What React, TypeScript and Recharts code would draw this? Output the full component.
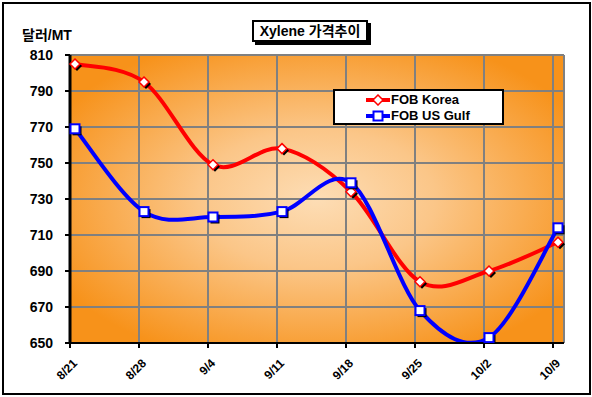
import { LineChart, Line, XAxis, YAxis, CartesianGrid } from "recharts"

const dates = ["8/21", "8/28", "9/4", "9/11", "9/18", "9/25", "10/2", "10/9"]
const fobKorea = [805, 795, 749, 758, 734, 684, 690, 706]
const fobUsGulf = [769, 723, 720, 723, 739, 668, 653, 714]
const yTicks = [650, 670, 690, 710, 730, 750, 770, 790, 810]

const series = [
  { key: "korea", name: "FOB Korea", color: "#FF0000", marker: "diamond" },
  { key: "gulf", name: "FOB US Gulf", color: "#0000FF", marker: "square" },
]

const data = dates.map((date, i) => ({ date, korea: fobKorea[i], gulf: fobUsGulf[i] }))

const W = 592
const H = 397
const margin = { top: 55, right: 28, bottom: 0, left: 0 }
const yAxisWidth = 70
const xAxisHeight = 54
const padL = 5
const padR = 6
const plotLeft = margin.left + yAxisWidth
const plotWidth = W - margin.right - plotLeft
const font = "'Liberation Sans', Arial, sans-serif"
const krFont = "'Liberation Sans', 'Noto Sans CJK KR', sans-serif"

// excel style smoothing (catmull-rom through the points)
const excelSmooth = (context: any) => {
  let pts: number[][] = []
  return {
    areaStart() {},
    areaEnd() {},
    lineStart() {
      pts = []
    },
    point(x: number, y: number) {
      pts.push([+x, +y])
    },
    lineEnd() {
      const n = pts.length
      if (!n) return
      context.moveTo(pts[0][0], pts[0][1])
      for (let i = 0; i < n - 1; i++) {
        const p0 = pts[Math.max(i - 1, 0)]
        const p1 = pts[i]
        const p2 = pts[i + 1]
        const p3 = pts[Math.min(i + 2, n - 1)]
        context.bezierCurveTo(
          p1[0] + (p2[0] - p0[0]) / 6,
          p1[1] + (p2[1] - p0[1]) / 6,
          p2[0] - (p3[0] - p1[0]) / 6,
          p2[1] - (p3[1] - p1[1]) / 6,
          p2[0],
          p2[1]
        )
      }
    },
  }
}

const Marker = ({ cx, cy, kind, color }: any) => {
  if (cx == null || cy == null) return null
  if (kind === "diamond") {
    const r = 5
    const d = (ox: number, oy: number) =>
      `M${cx + ox},${cy + oy - r} L${cx + ox + r},${cy + oy} L${cx + ox},${cy + oy + r} L${cx + ox - r},${cy + oy} Z`
    return (
      <g>
        <path d={d(2, 2)} fill="#000" />
        <path d={d(0, 0)} fill="#fff" stroke={color} strokeWidth={1.5} />
      </g>
    )
  }
  const s = 9
  return (
    <g>
      <rect x={cx - s / 2 + 2} y={cy - s / 2 + 2} width={s} height={s} fill="#000" />
      <rect x={cx - s / 2} y={cy - s / 2} width={s} height={s} fill="#fff" stroke={color} strokeWidth={2} />
    </g>
  )
}

const DateTick = ({ x, y, payload }: any) => (
  <g>
    <line x1={x - 5} x2={x - 5} y1={y} y2={y + 5} stroke="#000" strokeWidth={2} />
    <text
      x={x + 3}
      y={y + 21}
      transform={`rotate(-45 ${x + 3} ${y + 21})`}
      textAnchor="end"
      fontFamily={font}
      fontWeight="bold"
      fontSize={12}
      fill="#000"
    >
      {payload.value}
    </text>
  </g>
)

export default function App() {
  const gridX = dates
    .map((_, i) => plotLeft + padL + (i * (plotWidth - padL - padR)) / (dates.length - 1) - 5)
    .concat([plotLeft + plotWidth])

  return (
    <div style={{ position: "absolute", left: 0, top: 0, width: W, height: H, background: "#fff" }}>
      <div
        style={{
          position: "absolute",
          left: 2,
          top: 2,
          width: 589,
          height: 393,
          border: "2px solid #000",
          boxSizing: "border-box",
        }}
      />
      <LineChart width={W} height={H} data={data} margin={margin} style={{ position: "absolute", left: 0, top: 0 }}>
        <defs>
          <radialGradient id="plotBg" cx="0.5" cy="0.5" r="0.6">
            <stop offset="0" stopColor="#FDDDB5" />
            <stop offset="0.4" stopColor="#FBC688" />
            <stop offset="1" stopColor="#F7921A" />
          </radialGradient>
        </defs>
        <CartesianGrid
          fill="url(#plotBg)"
          fillOpacity={1}
          stroke="#808080"
          strokeWidth={2}
          verticalCoordinatesGenerator={() => gridX}
        />
        <XAxis
          dataKey="date"
          height={xAxisHeight}
          padding={{ left: padL, right: padR }}
          axisLine={{ stroke: "#000", strokeWidth: 2 }}
          tickLine={false}
          tickSize={0}
          tickMargin={0}
          interval={0}
          tick={<DateTick />}
        />
        <YAxis
          width={yAxisWidth}
          domain={[650, 810]}
          ticks={yTicks}
          allowDataOverflow
          axisLine={{ stroke: "#000", strokeWidth: 3 }}
          tickLine={{ stroke: "#000", strokeWidth: 2 }}
          tickSize={5}
          tickMargin={12}
          tick={{ fill: "#000", fontFamily: font, fontWeight: "bold", fontSize: 14 }}
        />
        {series.map((s) => (
          <Line
            key={s.key}
            dataKey={s.key}
            name={s.name}
            type={excelSmooth as any}
            stroke={s.color}
            strokeWidth={4}
            dot={(p: any) => <Marker key={`${s.key}-${p.index}`} cx={p.cx} cy={p.cy} kind={s.marker} color={s.color} />}
            activeDot={false}
            isAnimationActive={false}
          />
        ))}
      </LineChart>
      <div
        style={{
          position: "absolute",
          left: 252,
          top: 20,
          width: 116,
          height: 22,
          border: "2px solid #000",
          boxSizing: "border-box",
          background: "#fff",
          boxShadow: "3px 3px 0 #000",
          fontFamily: krFont,
          fontWeight: "bold",
          fontSize: 14,
          lineHeight: "18px",
          textAlign: "center",
          whiteSpace: "nowrap",
        }}
      >
        Xylene 가격추이
      </div>
      <div
        style={{
          position: "absolute",
          left: 22,
          top: 26,
          fontFamily: krFont,
          fontWeight: "bold",
          fontSize: 14,
          lineHeight: "18px",
          whiteSpace: "nowrap",
        }}
      >
        달러/MT
      </div>
      <div
        style={{
          position: "absolute",
          left: 333,
          top: 89,
          width: 171,
          height: 36,
          border: "2px solid #000",
          boxSizing: "border-box",
          background: "#fff",
          paddingTop: 1,
        }}
      >
        {series.map((s) => (
          <div key={s.key} style={{ display: "flex", alignItems: "center", height: 16, paddingLeft: 30 }}>
            <svg width={26} height={12}>
              <line x1={1} x2={25} y1={6} y2={6} stroke={s.color} strokeWidth={4} />
              {s.marker === "diamond" ? (
                <path d="M13,1 L18,6 L13,11 L8,6 Z" fill="#fff" stroke={s.color} strokeWidth={1.5} />
              ) : (
                <rect x={8.5} y={1.5} width={9} height={9} fill="#fff" stroke={s.color} strokeWidth={2} />
              )}
            </svg>
            <span style={{ fontFamily: font, fontWeight: "bold", fontSize: 13, lineHeight: "16px", whiteSpace: "nowrap" }}>
              {s.name}
            </span>
          </div>
        ))}
      </div>
    </div>
  )
}
